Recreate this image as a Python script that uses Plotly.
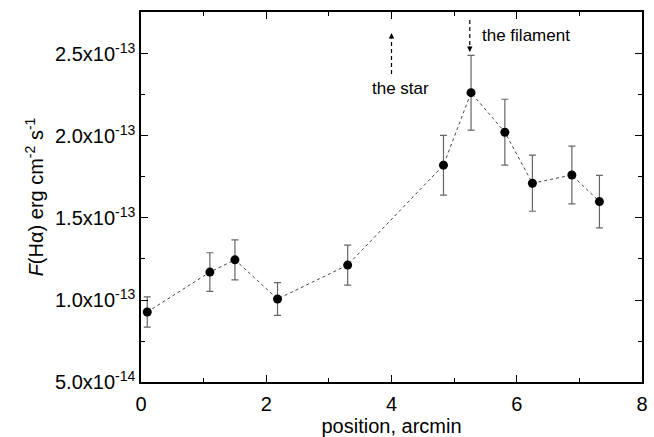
import plotly.graph_objects as go

# H-alpha flux along the slit
position = [0.10, 1.10, 1.50, 2.18, 3.30, 4.83, 5.27, 5.81, 6.25, 6.88, 7.32]
flux = [9.27e-14, 1.17e-13, 1.245e-13, 1.006e-13, 1.213e-13, 1.822e-13,
        2.264e-13, 2.023e-13, 1.712e-13, 1.762e-13, 1.60e-13]
flux_err = [0.92e-14, 1.18e-14, 1.22e-14, 1.0e-14, 1.22e-14, 1.82e-14,
            2.28e-14, 2.01e-14, 1.71e-14, 1.76e-14, 1.6e-14]

y_ticks = [5e-14, 1e-13, 1.5e-13, 2e-13, 2.5e-13]
y_tick_text = ["5.0x10<sup>-14</sup>", "1.0x10<sup>-13</sup>", "1.5x10<sup>-13</sup>",
               "2.0x10<sup>-13</sup>", "2.5x10<sup>-13</sup>"]
x_ticks = [0, 2, 4, 6, 8]

FONT = "Liberation Sans, Arial, sans-serif"

fig = go.Figure()
fig.add_trace(go.Scatter(
    x=position, y=flux,
    mode="lines+markers",
    line=dict(color="#444", width=1, dash="3px,3px"),
    marker=dict(color="black", size=9),
    error_y=dict(type="data", array=flux_err, color="#666", thickness=1.2, width=3.5),
    showlegend=False,
))

# dashed pointers for the star and the filament
fig.add_shape(type="line", x0=4.0, x1=4.0, y0=2.378e-13, y1=2.60e-13,
              line=dict(color="black", width=1.2, dash="4px,3px"))
fig.add_shape(type="line", x0=5.25, x1=5.25, y0=2.707e-13, y1=2.54e-13,
              line=dict(color="black", width=1.2, dash="4px,3px"))
fig.add_annotation(x=4.0, y=2.628e-13, ax=0, ay=7, axref="pixel", ayref="pixel",
                   text="", showarrow=True, arrowhead=2, arrowsize=0.9,
                   arrowwidth=1.2, arrowcolor="black")
fig.add_annotation(x=5.25, y=2.512e-13, ax=0, ay=-7, axref="pixel", ayref="pixel",
                   text="", showarrow=True, arrowhead=2, arrowsize=0.9,
                   arrowwidth=1.2, arrowcolor="black")
fig.add_annotation(x=4.14, y=2.287e-13, text="the star", showarrow=False,
                   font=dict(family=FONT, size=17, color="black"))
fig.add_annotation(x=5.41, y=2.61e-13, text="the filament", showarrow=False,
                   xanchor="left", font=dict(family=FONT, size=17, color="black"))

axis_common = dict(
    showline=True, linecolor="black", linewidth=1.5, mirror="allticks",
    ticks="inside", ticklen=7, tickwidth=1.2, tickcolor="black",
    showgrid=False, zeroline=False,
    tickfont=dict(family=FONT, size=20, color="black"),
)

fig.update_xaxes(
    range=[0, 8], tickvals=x_ticks, ticklabelstandoff=3,
    minor=dict(ticks="inside", ticklen=4, tickwidth=1.2, tickcolor="black", dtick=1, showgrid=False),
    title=dict(text="position, arcmin", font=dict(family=FONT, size=20, color="black"), standoff=2),
    **axis_common,
)
fig.update_yaxes(
    range=[5e-14, 2.756e-13], tickvals=y_ticks, ticktext=y_tick_text,
    minor=dict(ticks="inside", ticklen=4, tickwidth=1.2, tickcolor="black",
               tickvals=[7.5e-14, 1.25e-13, 1.75e-13, 2.25e-13, 2.75e-13], showgrid=False),
    title=dict(text="<i>F</i>(H\u03b1) erg cm<sup>-2</sup> s<sup>-1</sup>",
               font=dict(family=FONT, size=20, color="black"), standoff=6),
    **axis_common,
)

fig.update_layout(
    width=654, height=437,
    margin=dict(l=141, r=6, t=12, b=55),
    plot_bgcolor="white", paper_bgcolor="white",
)

fig.write_html("out.html")
